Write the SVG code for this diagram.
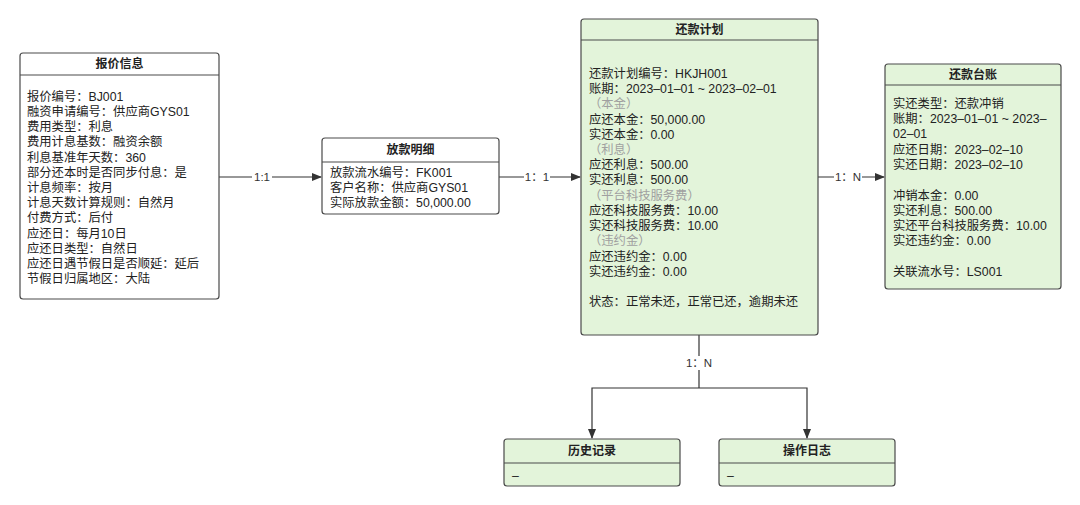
<svg xmlns="http://www.w3.org/2000/svg" width="1080" height="505" viewBox="0 0 1080 505">
<style>
.box{stroke:#4a4a4a;stroke-width:1.2}
.w{fill:#ffffff}
.g{fill:#e3f4da}
.sep{stroke:#4a4a4a;stroke-width:1.2}
.t{font-family:"Liberation Sans","Noto Sans CJK SC",sans-serif;font-size:12.3px;fill:#222}
.h{font-family:"Liberation Sans","Noto Sans CJK SC",sans-serif;font-size:12px;font-weight:bold;fill:#222;text-anchor:middle}
.m{fill:#a0a0a0}
.lbl{font-family:"Liberation Sans","Noto Sans CJK SC",sans-serif;font-size:11.5px;fill:#333;text-anchor:middle}
.c{stroke:#333;stroke-width:1.2;fill:none}
</style>
<defs>
<marker id="arr" markerWidth="10" markerHeight="8" refX="9" refY="4" orient="auto" markerUnits="userSpaceOnUse">
<path d="M0,0 L10,4 L0,8 Z" fill="#333"/>
</marker>
</defs>
<rect width="1080" height="505" fill="#ffffff"/>
<g id="connectors">
<line class="c" x1="219" y1="177" x2="321" y2="177" marker-end="url(#arr)"/>
<rect x="252" y="170" width="20" height="13" fill="#fff"/>
<text class="lbl" x="262" y="181">1:1</text>
<line class="c" x1="499" y1="177" x2="580" y2="177" marker-end="url(#arr)"/>
<rect x="524" y="170" width="26" height="13" fill="#fff"/>
<text class="lbl" x="537" y="181">1：1</text>
<line class="c" x1="818" y1="177" x2="884" y2="177" marker-end="url(#arr)"/>
<rect x="834" y="170" width="28" height="13" fill="#fff"/>
<text class="lbl" x="848" y="181">1：N</text>
<path class="c" d="M699,335 V388"/>
<rect x="684" y="356" width="30" height="14" fill="#fff"/>
<text class="lbl" x="699" y="367">1：N</text>
<path class="c" d="M699,388 H592 V438" marker-end="url(#arr)"/>
<path class="c" d="M699,388 H807 V438" marker-end="url(#arr)"/>
</g>
<g id="baojia">
<rect class="box w" x="20" y="53" width="199" height="246" rx="3"/>
<line class="sep" x1="20" y1="75" x2="219" y2="75"/>
<text class="h" x="119.5" y="68">报价信息</text>
<text class="t" x="27" y="101">报价编号：BJ001</text>
<text class="t" x="27" y="116">融资申请编号：供应商GYS01</text>
<text class="t" x="27" y="131">费用类型：利息</text>
<text class="t" x="27" y="146">费用计息基数：融资余额</text>
<text class="t" x="27" y="162">利息基准年天数：360</text>
<text class="t" x="27" y="177">部分还本时是否同步付息：是</text>
<text class="t" x="27" y="192">计息频率：按月</text>
<text class="t" x="27" y="207">计息天数计算规则：自然月</text>
<text class="t" x="27" y="222">付费方式：后付</text>
<text class="t" x="27" y="238">应还日：每月10日</text>
<text class="t" x="27" y="253">应还日类型：自然日</text>
<text class="t" x="27" y="268">应还日遇节假日是否顺延：延后</text>
<text class="t" x="27" y="283">节假日归属地区：大陆</text>
</g>
<g id="fangkuan">
<rect class="box w" x="322" y="138" width="177" height="76" rx="3"/>
<line class="sep" x1="322" y1="162" x2="499" y2="162"/>
<text class="h" x="410.5" y="154">放款明细</text>
<text class="t" x="330" y="177">放款流水编号：FK001</text>
<text class="t" x="330" y="192">客户名称：供应商GYS01</text>
<text class="t" x="330" y="207">实际放款金额：50,000.00</text>
</g>
<g id="huankuanjihua">
<rect class="box g" x="581" y="19" width="237" height="316" rx="3"/>
<line class="sep" x1="581" y1="40" x2="818" y2="40"/>
<text class="h" x="699.5" y="34">还款计划</text>
<text class="t" x="589" y="78">还款计划编号：HKJH001</text>
<text class="t" x="589" y="93">账期：2023–01–01 ~ 2023–02–01</text>
<text class="t m" x="589" y="108">（本金）</text>
<text class="t" x="589" y="124">应还本金：50,000.00</text>
<text class="t" x="589" y="139">实还本金：0.00</text>
<text class="t m" x="589" y="154">（利息）</text>
<text class="t" x="589" y="169">应还利息：500.00</text>
<text class="t" x="589" y="184">实还利息：500.00</text>
<text class="t m" x="589" y="200">（平台科技服务费）</text>
<text class="t" x="589" y="215">应还科技服务费：10.00</text>
<text class="t" x="589" y="230">实还科技服务费：10.00</text>
<text class="t m" x="589" y="245">（违约金）</text>
<text class="t" x="589" y="261">应还违约金：0.00</text>
<text class="t" x="589" y="276">实还违约金：0.00</text>
<text class="t" x="589" y="306">状态：正常未还，正常已还，逾期未还</text>
</g>
<g id="taizhang">
<rect class="box g" x="885" y="64" width="176" height="225" rx="3"/>
<line class="sep" x1="885" y1="85" x2="1061" y2="85"/>
<text class="h" x="973" y="79">还款台账</text>
<text class="t" x="893" y="108">实还类型：还款冲销</text>
<text class="t" x="893" y="123">账期：2023–01–01 ~ 2023–</text>
<text class="t" x="893" y="138">02–01</text>
<text class="t" x="893" y="154">应还日期：2023–02–10</text>
<text class="t" x="893" y="169">实还日期：2023–02–10</text>
<text class="t" x="893" y="200">冲销本金：0.00</text>
<text class="t" x="893" y="215">实还利息：500.00</text>
<text class="t" x="893" y="230">实还平台科技服务费：10.00</text>
<text class="t" x="893" y="245">实还违约金：0.00</text>
<text class="t" x="893" y="276">关联流水号：LS001</text>
</g>
<g id="lishi">
<rect class="box g" x="504" y="439" width="176" height="47" rx="3"/>
<line class="sep" x1="504" y1="463" x2="680" y2="463"/>
<text class="h" x="592" y="455">历史记录</text>
<text class="t" x="512" y="480">–</text>
</g>
<g id="caozuo">
<rect class="box g" x="719" y="439" width="176" height="47" rx="3"/>
<line class="sep" x1="719" y1="463" x2="895" y2="463"/>
<text class="h" x="807" y="455">操作日志</text>
<text class="t" x="727" y="480">–</text>
</g>
</svg>
